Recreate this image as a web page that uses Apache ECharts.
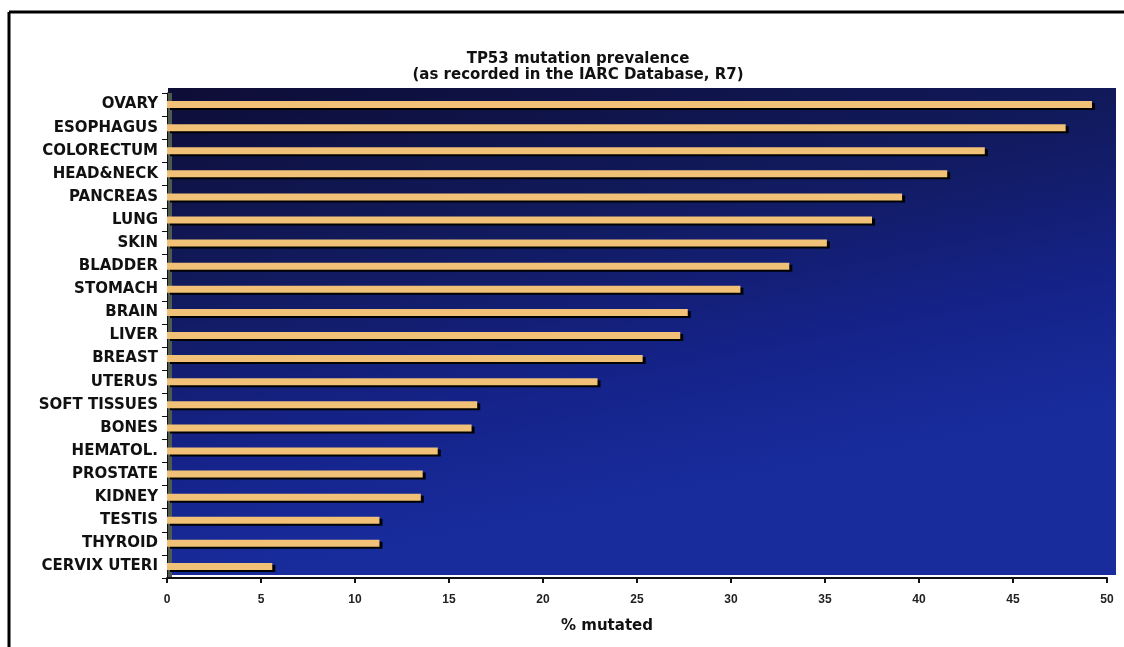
<!DOCTYPE html>
<html>
<head>
<meta charset="utf-8">
<script src="https://cdn.jsdelivr.net/npm/echarts@6/dist/echarts.min.js"></script>
<style>
html,body{margin:0;padding:0;background:#fff;}
#chart{width:1124px;height:647px;}
</style>
</head>
<body>
<div id="chart"></div>
<script>
const categories = ["OVARY","ESOPHAGUS","COLORECTUM","HEAD&NECK","PANCREAS","LUNG","SKIN","BLADDER","STOMACH","BRAIN","LIVER","BREAST","UTERUS","SOFT TISSUES","BONES","HEMATOL.","PROSTATE","KIDNEY","TESTIS","THYROID","CERVIX UTERI"];
const mutatedPct = [49.2,47.8,43.5,41.5,39.1,37.5,35.1,33.1,30.5,27.7,27.3,25.3,22.9,16.5,16.2,14.4,13.6,13.5,11.3,11.3,5.6];
const xTicks = [0,5,10,15,20,25,30,35,40,45,50];
const titleText = "TP53 mutation prevalence";
const subtitleText = "(as recorded in the IARC Database, R7)";
const xAxisName = "% mutated";

const chart = echarts.init(document.getElementById('chart'));
const wide = "'DejaVu Sans', Verdana, sans-serif";
const font = "'Liberation Sans', Arial, sans-serif";
chart.setOption({
  animation: false,
  backgroundColor: '#ffffff',
  title: {
    text: titleText,
    subtext: subtitleText,
    left: 573,
    textAlign: 'center',
    top: 47,
    itemGap: 1,
    textStyle: {fontFamily: wide, fontSize: 15, fontWeight: 'bold', color: '#111'},
    subtextStyle: {fontFamily: wide, fontSize: 15, fontWeight: 'bold', color: '#111'}
  },
  graphic: [
    {type: 'line', shape: {x1: 9, y1: 12, x2: 1124, y2: 12}, style: {stroke: '#000', lineWidth: 3}},
    {type: 'line', shape: {x1: 9, y1: 12, x2: 9, y2: 647}, style: {stroke: '#000', lineWidth: 3}},
    {type: 'rect', z: -1, shape: {x: 168, y: 88, width: 948, height: 487},
     style: {fill: new echarts.graphic.LinearGradient(0, 0, 0.1, 1, [
       {offset: 0, color: '#0d0d36'},
       {offset: 0.4, color: '#111a5c'},
       {offset: 0.75, color: '#15238a'},
       {offset: 1, color: '#182c9c'}
     ])}},
    {type: 'rect', z: 0, shape: {x: 168, y: 93, width: 4, height: 485}, style: {fill: '#4e5a50'}}
  ],
  grid: {left: 167, right: 17, top: 93, bottom: 69, containLabel: false},
  xAxis: {
    type: 'value',
    min: 0, max: 50, interval: 5,
    name: xAxisName,
    nameLocation: 'middle',
    nameGap: 41,
    nameTextStyle: {fontFamily: wide, fontSize: 15, fontWeight: 'bold', color: '#111', padding: [0, 60, 0, 0]},
    axisLine: {show: true, lineStyle: {color: '#111', width: 2}},
    axisTick: {show: true, length: 5, lineStyle: {color: '#111', width: 2}},
    axisLabel: {fontFamily: font, fontSize: 12, fontWeight: 'bold', color: '#222', margin: 16,
      formatter: v => xTicks.includes(v) ? String(v) : ''},
    splitLine: {show: false}
  },
  yAxis: {
    type: 'category',
    data: categories,
    inverse: true,
    axisLine: {show: true, lineStyle: {color: '#111', width: 1}},
    axisTick: {show: true, length: 5, lineStyle: {color: '#111'}},
    axisLabel: {fontFamily: wide, fontSize: 15, fontWeight: 'bold', color: '#111', margin: 9}
  },
  series: [{
    type: 'bar',
    data: mutatedPct,
    barWidth: 7,
    itemStyle: {
      color: '#f1c177',
      shadowColor: '#000',
      shadowOffsetX: 3,
      shadowOffsetY: 2,
      shadowBlur: 0
    }
  }]
});
</script>
</body>
</html>
